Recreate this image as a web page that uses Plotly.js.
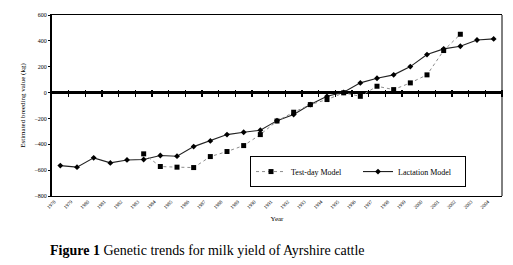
<!DOCTYPE html>
<html>
<head>
<meta charset="utf-8">
<script src="https://cdn.plot.ly/plotly-3.0.1.min.js"></script>
<style>html,body{margin:0;padding:0;background:#fff;}#chart{width:513px;height:265px;}</style>
</head>
<body>
<div id="chart"></div>
<script>
// Data
const years = [1978,1979,1980,1981,1982,1983,1984,1985,1986,1987,1988,1989,1990,1991,1992,1993,1994,1995,1996,1997,1998,1999,2000,2001,2002,2003,2004];
const lactationModel = [-565,-577,-505,-544,-521,-518,-487,-492,-418,-374,-325,-307,-291,-217,-170,-93,-29,2,75,111,137,201,294,338,358,407,415];
const testDayYears = [1983,1984,1985,1986,1987,1988,1989,1990,1991,1992,1993,1994,1995,1996,1997,1998,1999,2000,2001,2002];
const testDayModel = [-474,-572,-577,-580,-495,-456,-410,-325,-220,-152,-93,-54,-2,-29,49,23,75,137,325,451];
const yTicks = [-800,-600,-400,-200,0,200,400,600];
const seriesNames = ['Test-day Model','Lactation Model'];
const yTitle = 'Estimated breeding value (kg)';
const xTitle = 'Year';
const caption = '<b>Figure 1</b> Genetic trends for milk yield of Ayrshire cattle';

const serif = 'Liberation Serif, Times New Roman, serif';
const yMin = -800, yMax = 600;
const plotHeightPx = 265 - 15 - 69;
const zeroPos = (0 - yMin) / (yMax - yMin);
const between = years.map(y => y + 0.5);
const xRange = [years[0] - 0.5, years[years.length - 1] + 0.5];

const traces = [
  {
    x: testDayYears, y: testDayModel, name: seriesNames[0], type: 'scatter', mode: 'lines+markers',
    xaxis: 'x2', yaxis: 'y',
    line: {color: '#8c8c8c', width: 1, dash: 'dot'},
    marker: {symbol: 'square', size: 5, color: '#000'}
  },
  {
    x: years, y: lactationModel, name: seriesNames[1], type: 'scatter', mode: 'lines+markers',
    xaxis: 'x', yaxis: 'y',
    line: {color: '#222', width: 1.1},
    marker: {symbol: 'diamond', size: 4.5, color: '#000'}
  }
];

const layout = {
  width: 513, height: 265,
  margin: {l: 52, r: 11, t: 15, b: 69},
  paper_bgcolor: '#fff', plot_bgcolor: '#fff',
  font: {family: serif, color: '#000'},
  showlegend: true,
  legend: {
    orientation: 'h', x: 0.44, xanchor: 'left', y: 0.135, yanchor: 'middle',
    bordercolor: '#000', borderwidth: 1, bgcolor: '#fff',
    font: {family: serif, size: 8, color: '#000'},
    itemwidth: 30, entrywidth: 62, entrywidthmode: 'pixels', itemclick: false
  },
  xaxis: {
    range: xRange,
    tickmode: 'array', tickvals: years, ticktext: years.map(String),
    tickangle: -45, tickfont: {family: serif, size: 5}, ticklabelshift: -6,
    ticks: '', showgrid: false, zeroline: false,
    showline: true, linecolor: '#000', linewidth: 1, mirror: true,
    title: {text: xTitle, font: {family: serif, size: 7}, standoff: 7}
  },
  xaxis2: {
    overlaying: 'x', anchor: 'free', position: zeroPos + 3.5 / plotHeightPx,
    range: xRange,
    tickmode: 'array', tickvals: between, showticklabels: false,
    showline: false, showgrid: false, zeroline: false,
    ticks: 'outside', ticklen: 6.5, tickwidth: 1.5, tickcolor: '#000'
  },
  yaxis: {
    range: [yMin, yMax], tickmode: 'array', tickvals: yTicks,
    tickfont: {family: serif, size: 6}, ticks: 'outside', ticklen: 2, tickwidth: 1, tickcolor: '#000',
    showgrid: false, showline: true, linecolor: '#000', linewidth: 2,
    zeroline: true, zerolinecolor: '#000', zerolinewidth: 2.5,
    title: {text: yTitle, font: {family: serif, size: 7}, standoff: 8}
  },
  shapes: [
    {type: 'line', xref: 'paper', yref: 'paper', x0: 1, x1: 1, y0: 0, y1: 1, line: {color: '#000', width: 1}}
  ],
  annotations: [
    {text: caption, xref: 'paper', yref: 'paper', x: -0.01, y: -0.3, xanchor: 'left', yanchor: 'middle',
     showarrow: false, font: {family: serif, size: 14, color: '#000'}}
  ]
};

Plotly.newPlot('chart', traces, layout, {staticPlot: true, displayModeBar: false});
</script>
</body>
</html>
